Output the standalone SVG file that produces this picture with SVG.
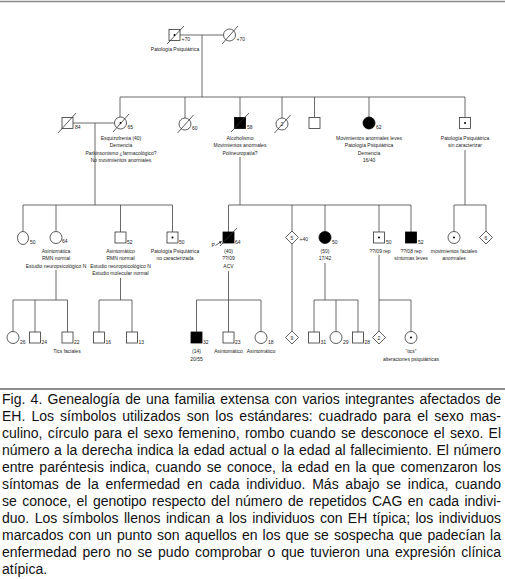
<svg xmlns="http://www.w3.org/2000/svg" width="505" height="579" viewBox="0 0 505 579">
<style>
.ln{stroke:#444;stroke-width:0.8;fill:none}
.sym{fill:#fff;stroke:#333;stroke-width:0.8}
.aff{fill:#000;stroke:#000;stroke-width:0.8}
.sl{stroke:#333;stroke-width:0.8}
.dot{fill:#000}
.t{font-family:"Liberation Sans",Arial,sans-serif;font-size:5px;fill:#222}
.c{text-anchor:middle}
.cap{font-family:"Liberation Sans",Arial,sans-serif;font-size:14px;fill:#111}
.rule{stroke:#888;stroke-width:1.5}
</style>
<defs>
<marker id="ah" viewBox="0 0 6 6" refX="5" refY="3" markerWidth="4" markerHeight="4" orient="auto"><path d="M0,0 L6,3 L0,6 z" fill="#222"/></marker>
</defs>
<rect width="505" height="579" fill="#fff"/>
<line class="rule" x1="0" y1="1.5" x2="505" y2="1.5"/>
<line class="rule" x1="0" y1="389" x2="505" y2="389" style="stroke:#666"/>

<g id="connectors" class="ln">
<line x1="180" y1="35" x2="223.5" y2="35"/>
<line x1="202" y1="35" x2="202" y2="97"/>
<line x1="120" y1="97" x2="465" y2="97"/>
<line x1="120" y1="97" x2="120" y2="117.5"/>
<line x1="185" y1="97" x2="185" y2="118"/>
<line x1="240" y1="97" x2="240" y2="117.5"/>
<line x1="282" y1="97" x2="282" y2="118"/>
<line x1="314.5" y1="97" x2="314.5" y2="117.5"/>
<line x1="369" y1="97" x2="369" y2="117"/>
<line x1="465" y1="97" x2="465" y2="117.5"/>
<line x1="73" y1="123" x2="114.5" y2="123"/>
<line x1="95" y1="123" x2="95" y2="205"/>
<line x1="240" y1="157" x2="240" y2="205"/>
<line x1="465" y1="150" x2="465" y2="205"/>
<line x1="23" y1="205" x2="172.5" y2="205"/>
<line x1="23" y1="205" x2="23" y2="231.5"/>
<line x1="56" y1="205" x2="56" y2="231.5"/>
<line x1="120.5" y1="205" x2="120.5" y2="232"/>
<line x1="172.5" y1="205" x2="172.5" y2="232"/>
<line x1="228.5" y1="205" x2="411" y2="205"/>
<line x1="228.5" y1="205" x2="228.5" y2="232"/>
<line x1="292" y1="205" x2="292" y2="231"/>
<line x1="325" y1="205" x2="325" y2="231.5"/>
<line x1="379" y1="205" x2="379" y2="232"/>
<line x1="411" y1="205" x2="411" y2="232"/>
<line x1="454" y1="205" x2="486" y2="205"/>
<line x1="454" y1="205" x2="454" y2="231.5"/>
<line x1="486" y1="205" x2="486" y2="231"/>
<line x1="56" y1="270" x2="56" y2="300"/>
<line x1="120.5" y1="278" x2="120.5" y2="300"/>
<line x1="228.5" y1="271" x2="228.5" y2="300"/>
<line x1="325" y1="263" x2="325" y2="300"/>
<line x1="379" y1="255" x2="379" y2="300"/>
<line x1="292" y1="244" x2="292" y2="331"/>
<line x1="13" y1="300" x2="67.5" y2="300"/>
<line x1="13" y1="300" x2="13" y2="331.5"/>
<line x1="35" y1="300" x2="35" y2="332"/>
<line x1="67.5" y1="300" x2="67.5" y2="332"/>
<line x1="99" y1="300" x2="132" y2="300"/>
<line x1="99" y1="300" x2="99" y2="332"/>
<line x1="132" y1="300" x2="132" y2="332"/>
<line x1="196.5" y1="300" x2="261" y2="300"/>
<line x1="196.5" y1="300" x2="196.5" y2="332"/>
<line x1="228.5" y1="300" x2="228.5" y2="332"/>
<line x1="261" y1="300" x2="261" y2="331.5"/>
<line x1="314" y1="300" x2="358" y2="300"/>
<line x1="314" y1="300" x2="314" y2="332"/>
<line x1="336" y1="300" x2="336" y2="331.5"/>
<line x1="358" y1="300" x2="358" y2="332"/>
<line x1="379" y1="300" x2="411" y2="300"/>
<line x1="379" y1="300" x2="379" y2="331"/>
<line x1="411" y1="300" x2="411" y2="331.5"/>
</g>

<!-- Generation I -->
<g id="I1">
<rect class="sym" x="169" y="29.5" width="11" height="11"/>
<circle class="dot" cx="174.5" cy="35" r="1"/>
<line class="sl" x1="167" y1="44" x2="184" y2="26"/>
<text class="t" x="181.5" y="41">+70</text>
<text class="t c" x="175" y="51">Patología Psiquiátrica</text>
</g>
<g id="I2">
<circle class="sym" cx="229.5" cy="35" r="6"/>
<line class="sl" x1="222" y1="44" x2="238" y2="26"/>
<text class="t" x="236.5" y="41">+70</text>
</g>

<!-- Generation II -->
<g id="II0">
<rect class="sym" x="62" y="117.5" width="11" height="11"/>
<line class="sl" x1="58" y1="133" x2="76" y2="113"/>
<text class="t" x="75" y="129">84</text>
</g>
<g id="II1">
<circle class="sym" cx="120.5" cy="123" r="6"/>
<circle class="dot" cx="120.5" cy="123" r="1"/>
<line class="sl" x1="113" y1="132" x2="129" y2="114"/>
<text class="t" x="127.5" y="129">65</text>
<text class="t c" x="121" y="139.5">Esquizofrenia (40)</text>
<text class="t c" x="121" y="147">Demencia</text>
<text class="t c" x="121" y="154.5">Parkinsonismo ¿farmacológico?</text>
<text class="t c" x="121" y="162">No movimientos anormales</text>
</g>
<g id="II2">
<circle class="sym" cx="185" cy="124" r="6"/>
<line class="sl" x1="177.5" y1="133" x2="193.5" y2="115"/>
<text class="t" x="192" y="130">60</text>
</g>
<g id="II3">
<rect class="aff" x="234.5" y="117.5" width="11" height="11"/>
<line class="sl" x1="231" y1="132" x2="249" y2="113"/>
<text class="t" x="247" y="129">58</text>
<text class="t c" x="240" y="139.5">Alcoholismo</text>
<text class="t c" x="240" y="147">Movimientos anormales</text>
<text class="t c" x="240" y="154.5">Polineuropatía?</text>
</g>
<g id="II4">
<circle class="sym" cx="282" cy="124" r="6"/>
<text class="t c" x="282" y="126">2</text>
<line class="sl" x1="274.5" y1="133" x2="290.5" y2="115"/>
</g>
<g id="II5">
<rect class="sym" x="309" y="117.5" width="11" height="11"/>
</g>
<g id="II6">
<circle class="aff" cx="369" cy="123" r="6"/>
<text class="t" x="376" y="129">62</text>
<text class="t c" x="369" y="139.5">Movimientos anormales leves</text>
<text class="t c" x="369" y="147">Patología Psiquiátrica</text>
<text class="t c" x="369" y="154.5">Demencia</text>
<text class="t c" x="369" y="162">16/40</text>
</g>
<g id="II7">
<rect class="sym" x="459.5" y="117.5" width="11" height="11"/>
<circle class="dot" cx="465" cy="123" r="1"/>
<text class="t c" x="465" y="139.5">Patología Psiquiátrica</text>
<text class="t c" x="465" y="147">sin caracterizar</text>
</g>

<!-- Generation III -->
<g id="III1">
<ellipse class="sym" cx="23" cy="238" rx="5.5" ry="6.5"/>
<text class="t" x="30" y="244">50</text>
</g>
<g id="III2">
<circle class="sym" cx="56" cy="237.5" r="6"/>
<text class="t" x="62" y="243">64</text>
<text class="t c" x="56" y="252.5">Asintomática</text>
<text class="t c" x="56" y="260">RMN normal</text>
<text class="t c" x="56" y="267.5">Estudio neuropsicológico N</text>
</g>
<g id="III3">
<rect class="sym" x="115" y="232" width="11" height="11"/>
<text class="t" x="127" y="243.5">52</text>
<text class="t c" x="120.5" y="252.5">Asintomático</text>
<text class="t c" x="120.5" y="260">RMN normal</text>
<text class="t c" x="120.5" y="267.5">Estudio neuropsicológico N</text>
<text class="t c" x="120.5" y="275">Estudio molecular normal</text>
</g>
<g id="III4">
<rect class="sym" x="167" y="232" width="11" height="11"/>
<circle class="dot" cx="172.5" cy="237.5" r="1"/>
<text class="t" x="179" y="244">50</text>
<text class="t c" x="175" y="252.5">Patología Psiquiátrica</text>
<text class="t c" x="175" y="260">no caracterizada</text>
</g>
<g id="III5">
<rect class="aff" x="223" y="232" width="11" height="11"/>
<line class="sl" x1="220" y1="246" x2="237" y2="228"/>
<text class="t" x="211.5" y="246.5">P</text>
<line x1="215.5" y1="245.5" x2="221.5" y2="241.5" stroke="#222" stroke-width="0.7" marker-end="url(#ah)"/>
<text class="t" x="235" y="244">64</text>
<text class="t c" x="228.5" y="252.5">(40)</text>
<text class="t c" x="228.5" y="260">??/09</text>
<text class="t c" x="228.5" y="268">ACV</text>
</g>
<g id="III6">
<polygon class="sym" points="292,231 298.5,237.5 292,244 285.5,237.5"/>
<text class="t c" x="292" y="239.5">5</text>
<text class="t" x="299.5" y="241">+40</text>
</g>
<g id="III7">
<circle class="aff" cx="325" cy="237.5" r="6"/>
<text class="t" x="332" y="243.5">50</text>
<text class="t c" x="325" y="252.5">(50)</text>
<text class="t c" x="325" y="260">17/42</text>
</g>
<g id="III8">
<rect class="sym" x="373.5" y="232" width="11" height="11"/>
<circle class="dot" cx="379" cy="237.5" r="1"/>
<text class="t" x="386" y="244">50</text>
<text class="t c" x="380" y="252.5">??/09 rep</text>
</g>
<g id="III9">
<rect class="aff" x="405.5" y="232" width="11" height="11"/>
<text class="t" x="418" y="244">52</text>
<text class="t c" x="411" y="252.5">??/08 rep</text>
<text class="t c" x="411" y="260">síntomas leves</text>
</g>
<g id="III10">
<circle class="sym" cx="454" cy="237.5" r="6"/>
<circle class="dot" cx="454" cy="237.5" r="1"/>
<text class="t c" x="454" y="252.5">movimientos faciales</text>
<text class="t c" x="454" y="260">anormales</text>
</g>
<g id="III11">
<polygon class="sym" points="486,231 492.5,237.5 486,244 479.5,237.5"/>
<text class="t c" x="486" y="239.5">6</text>
</g>

<!-- Generation IV -->
<g id="IV1"><circle class="sym" cx="13" cy="337.5" r="6"/><text class="t" x="20" y="344">26</text></g>
<g id="IV2"><rect class="sym" x="29.5" y="332" width="11" height="11"/><text class="t" x="41.5" y="344">24</text></g>
<g id="IV3"><rect class="sym" x="62" y="332" width="11" height="11"/><text class="t" x="74" y="344">22</text><text class="t c" x="67" y="353">Tics faciales</text></g>
<g id="IV4"><rect class="sym" x="93.5" y="332" width="11" height="11"/><text class="t" x="105.5" y="344">16</text></g>
<g id="IV5"><rect class="sym" x="126.5" y="332" width="11" height="11"/><text class="t" x="138.5" y="344">13</text></g>
<g id="IV6"><rect class="aff" x="191" y="332" width="11" height="11"/><text class="t" x="203" y="344">32</text><text class="t c" x="196.5" y="353">(14)</text><text class="t c" x="196.5" y="360.5">20/55</text></g>
<g id="IV7"><rect class="sym" x="223" y="332" width="11" height="11"/><text class="t" x="235" y="344">23</text><text class="t c" x="228.5" y="353">Asintomático</text></g>
<g id="IV8"><circle class="sym" cx="261" cy="337.5" r="6"/><text class="t" x="268" y="344">18</text><text class="t c" x="261" y="353">Asintomático</text></g>
<g id="IV9"><polygon class="sym" points="292,331 298.5,337.5 292,344 285.5,337.5"/><text class="t c" x="292" y="339.5">9</text></g>
<g id="IV10"><rect class="sym" x="308.5" y="332" width="11" height="11"/><text class="t" x="320.5" y="344">31</text></g>
<g id="IV11"><circle class="sym" cx="336" cy="337.5" r="6"/><text class="t" x="343" y="344">29</text></g>
<g id="IV12"><rect class="sym" x="352.5" y="332" width="11" height="11"/><text class="t" x="364.5" y="344">28</text></g>
<g id="IV13"><polygon class="sym" points="379,331 385.5,337.5 379,344 372.5,337.5"/><text class="t c" x="379" y="339.5">2</text></g>
<g id="IV14"><circle class="sym" cx="411" cy="337.5" r="6"/><circle class="dot" cx="411" cy="337.5" r="1"/><text class="t c" x="411" y="353">“tics”</text><text class="t c" x="411" y="360.5">alteraciones psiquiátricas</text></g>

<!-- Caption -->
<g id="caption" class="cap">
<text x="2" y="404" word-spacing="1.36" textLength="499" lengthAdjust="spacing">Fig. 4. Genealogía de una familia extensa con varios integrantes afectados de</text>
<text x="2" y="421" word-spacing="2.2" textLength="499" lengthAdjust="spacing">EH. Los símbolos utilizados son los estándares: cuadrado para el sexo mas-</text>
<text x="2" y="438" word-spacing="1.32" textLength="499" lengthAdjust="spacing">culino, círculo para el sexo femenino, rombo cuando se desconoce el sexo. El</text>
<text x="2" y="455" word-spacing="0.68" textLength="499" lengthAdjust="spacing">número a la derecha indica la edad actual o la edad al fallecimiento. El número</text>
<text x="2" y="472" word-spacing="1.57" textLength="499" lengthAdjust="spacing">entre paréntesis indica, cuando se conoce, la edad en la que comenzaron los</text>
<text x="2" y="489" word-spacing="2.85" textLength="499" lengthAdjust="spacing">síntomas de la enfermedad en cada individuo. Más abajo se indica, cuando</text>
<text x="2" y="506" word-spacing="1.51" textLength="499" lengthAdjust="spacing">se conoce, el genotipo respecto del número de repetidos CAG en cada indivi-</text>
<text x="2" y="523" word-spacing="1.51" textLength="499" lengthAdjust="spacing">duo. Los símbolos llenos indican a los individuos con EH típica; los individuos</text>
<text x="2" y="540" word-spacing="1.21" textLength="499" lengthAdjust="spacing">marcados con un punto son aquellos en los que se sospecha que padecían la</text>
<text x="2" y="557" word-spacing="1.85" textLength="499" lengthAdjust="spacing">enfermedad pero no se pudo comprobar o que tuvieron una expresión clínica</text>
<text x="2" y="574">atípica.</text>
</g>
</svg>
